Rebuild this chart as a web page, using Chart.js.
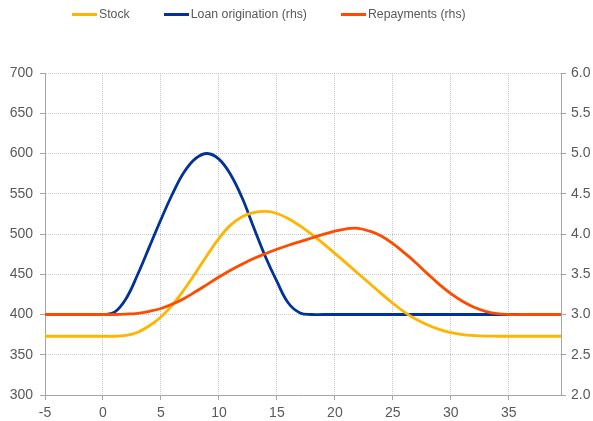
<!DOCTYPE html>
<html>
<head>
<meta charset="utf-8">
<script src="https://cdn.jsdelivr.net/npm/chart.js@4"></script>
<style>
  body { margin: 0; background: #fff; }
  #wrap { position: relative; width: 593px; height: 421px; }
  #chart { position: absolute; left: 0; top: 0; }
  #legend {
    position: absolute; left: 72px; top: 7px;
    display: flex; gap: 34px;
    font-family: "Liberation Sans", Arial, sans-serif; font-size: 12.3px; color: #595959;
  }
  #legend .item { display: flex; align-items: center; }
  #legend .swatch { width: 25px; height: 3px; margin-right: 2px; }
</style>
</head>
<body>
<div id="wrap">
  <canvas id="chart" width="593" height="421"></canvas>
  <div id="legend"></div>
</div>
<script>
// years since start, x axis
var years = [-5, -4, -3, -2, -1, 0, 1, 2, 3, 4, 5, 6, 7, 8, 9, 10, 11, 12, 13, 14,
    15, 16, 17, 18, 19, 20, 21, 22, 23, 24, 25, 26, 27, 28, 29, 30, 31, 32, 33, 34,
    35, 36, 37, 38, 39, 40];

// lhs
var stock = [373, 373, 373, 373, 373, 373, 373, 374, 378, 386, 397, 412, 431, 452, 474, 494.5,
    511, 521.5, 526.5, 528, 525.5, 519, 510, 499.5, 488, 476, 463.5, 451, 438.5, 426, 414, 403,
    394, 387, 381.5, 377.5, 375, 373.8, 373.2, 373, 373, 373, 373, 373, 373, 373];

// rhs
var loanOrigination = [3.0, 3.0, 3.0, 3.0, 3.0, 3.0, 3.03, 3.20, 3.50, 3.84, 4.18, 4.50, 4.77,
    4.94, 5.0, 4.93, 4.74, 4.45, 4.08, 3.72, 3.41, 3.14, 3.02, 3.0, 3.0, 3.0, 3.0, 3.0, 3.0,
    3.0, 3.0, 3.0, 3.0, 3.0, 3.0, 3.0, 3.0, 3.0, 3.0, 3.0, 3.0, 3.0, 3.0, 3.0, 3.0, 3.0];

// rhs
var repayments = [3.0, 3.0, 3.0, 3.0, 3.0, 3.0, 3.0, 3.005, 3.015, 3.04, 3.075, 3.13, 3.20,
    3.285, 3.375, 3.465, 3.55, 3.625, 3.695, 3.755, 3.81, 3.86, 3.905, 3.95, 3.995, 4.035,
    4.065, 4.07, 4.035, 3.975, 3.88, 3.765, 3.64, 3.505, 3.375, 3.26, 3.165, 3.09, 3.04, 3.01,
    3.0, 3.0, 3.0, 3.0, 3.0, 3.0];

var seriesNames = ['Stock', 'Loan origination (rhs)', 'Repayments (rhs)'];
var seriesColors = ['#FFB400', '#003299', '#FF4B00'];

function toPoints(values) {
    return values.map(function (v, i) { return {x: years[i], y: v}; });
}

// legend as html so the spacing can match
var legend = document.getElementById('legend');
seriesNames.forEach(function (name, i) {
    var item = document.createElement('div');
    item.className = 'item';
    var sw = item.appendChild(document.createElement('span'));
    sw.className = 'swatch';
    sw.style.background = seriesColors[i];
    item.appendChild(document.createElement('span')).textContent = name;
    legend.appendChild(item);
});

var axisColor = '#a6a6a6';
var gridColor = '#c8c8c8';
var tickFont = {family: '"Liberation Sans", Arial, sans-serif', size: 14};

var chart = new Chart(document.getElementById('chart'), {
    type: 'line',
    data: {
        datasets: [
            {label: seriesNames[0], data: toPoints(stock), yAxisID: 'y', order: 1,
                borderColor: seriesColors[0], backgroundColor: seriesColors[0]},
            {label: seriesNames[1], data: toPoints(loanOrigination), yAxisID: 'y2', order: 2,
                borderColor: seriesColors[1], backgroundColor: seriesColors[1]},
            {label: seriesNames[2], data: toPoints(repayments), yAxisID: 'y2', order: 0,
                borderColor: seriesColors[2], backgroundColor: seriesColors[2]}
        ]
    },
    options: {
        responsive: false,
        animation: false,
        devicePixelRatio: 1,
        layout: {padding: {top: 73, left: 0, right: 0, bottom: 0}},
        elements: {
            point: {radius: 0},
            line: {borderWidth: 2.8, tension: 0.4}
        },
        plugins: {legend: {display: false}, tooltip: {enabled: false}},
        scales: {
            x: {
                type: 'linear', min: -5, max: 39.5,
                ticks: {stepSize: 5, includeBounds: false, color: '#595959', font: tickFont, padding: 5},
                grid: {color: gridColor, tickColor: axisColor, tickLength: 5, tickBorderDash: []},
                border: {color: axisColor, dash: [1, 1]},
                afterFit: function (s) { s.height = 26; }
            },
            y: {
                position: 'left', min: 300, max: 700,
                ticks: {stepSize: 50, color: '#595959', font: tickFont, padding: 7},
                grid: {color: gridColor, tickColor: axisColor, tickLength: 5, tickBorderDash: []},
                border: {color: axisColor, dash: [1, 1]},
                afterFit: function (s) { s.width = 45; }
            },
            y2: {
                position: 'right', min: 2, max: 6,
                ticks: {stepSize: 0.5, color: '#595959', font: tickFont, padding: 5,
                    callback: function (v) { return v.toFixed(1); }},
                grid: {drawOnChartArea: false, tickColor: axisColor, tickLength: 5, tickBorderDash: []},
                border: {color: axisColor},
                afterFit: function (s) { s.width = 32; }
            }
        }
    }
});
</script>
</body>
</html>
